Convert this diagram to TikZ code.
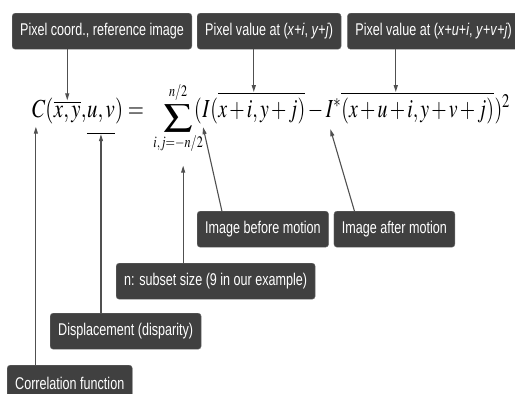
\documentclass[tikz,border=0pt]{standalone}
\usepackage{mathptmx}
\usepackage{fontspec}
\usepackage{graphicx}
\newfontfamily\calloutfont[FakeStretch=0.74]{Liberation Sans}
\usetikzlibrary{positioning,arrows.meta}
\definecolor{boxfill}{HTML}{404040}
\definecolor{boxedge}{HTML}{6E6E6E}
\definecolor{pointer}{HTML}{505050}
\newcommand{\narrowmath}[2][0.76]{\scalebox{#1}[1]{$\medmuskip=2mu #2$}}
\tikzset{
  callout/.style={draw=boxedge, fill=boxfill, text=white, rounded corners=3pt, inner xsep=8pt, minimum height=36pt, font=\calloutfont\fontsize{17}{20}\selectfont},
  eqpart/.style={inner sep=0pt, font=\fontsize{26}{31}\selectfont},
  eqlimit/.style={inner sep=0pt, font=\fontsize{16}{19}\selectfont},
  pointto/.style={-{Triangle[length=7pt,width=4pt]}, pointer, line width=1.1pt},
  bar/.style={line width=1.1pt}
}

\begin{document}
\begin{tikzpicture}[x=1pt, y=-1pt]
  \useasboundingbox (0,0) rectangle (515,394);

  % the formula, piece by piece
  \node[eqpart, anchor=base west] (fC) at (32,117) {\narrowmath[0.8]{C(}};
  \node[eqpart, base right=0pt of fC] (fxy) {\narrowmath[0.8]{\overline{x,y}}};
  \node[eqpart, base right=0pt of fxy] (fc1) {\narrowmath[0.8]{,}};
  \node[eqpart, base right=0pt of fc1] (fuv) {\narrowmath[0.8]{u,v}};
  \node[eqpart, base right=0pt of fuv] (feq) {\narrowmath[0.8]{)=}};
  \node[eqpart, base right=19pt of feq] (fsum) {\raisebox{-7pt}{\scalebox{1.1}[0.85]{$\displaystyle\sum$}}};
  \node[eqlimit, above=4pt of fsum] (fsup) {\narrowmath{n/2}};
  \node[eqlimit, below=3pt of fsum] (fsub) {\narrowmath{i{,}j{=}{-}n/2}};
  \node[eqpart, base right=1pt of fsum] (fop) {\narrowmath{(}};
  \node[eqpart, base right=0pt of fop] (fI) {\narrowmath{I}};
  \node[eqpart, base right=0pt of fI] (fop2) {\narrowmath{(}};
  \node[eqpart, base right=0pt of fop2] (fxi) {\narrowmath{\overline{x+i,y+j)}}};
  \node[eqpart, base right=0pt of fxi] (fmin) {\narrowmath{{}-{}}};
  \node[eqpart, base right=0pt of fmin] (fIs) {\narrowmath{I^*}};
  \node[eqpart, base right=0pt of fIs] (fxu) {\narrowmath{\overline{(x+u+i,y+v+j)}}};
  \node[eqpart, base right=0pt of fxu] (fend) {\narrowmath{)^2}};
  \draw[bar] ([yshift=-11pt]fuv.south west) -- ([yshift=-11pt]fuv.south east);
  \coordinate (uvbar) at ([yshift=-12pt]fuv.south);

  % callouts
  \node[callout, anchor=north west] (pxcoord) at (12,13) {Pixel coord., reference image};
  \node[callout, right=5pt of pxcoord] (pxbefore) {Pixel value at (\textit{x}+\textit{i}, \textit{y}+\textit{j})};
  \node[callout, right=6pt of pxbefore] (pxafter) {Pixel value at (\textit{x}+\textit{u}+\textit{i}, \textit{y}+\textit{v}+\textit{j})};

  \node[callout, anchor=north west] (before) at (197,211) {Image before motion};
  \node[callout, right=5pt of before] (after) {Image after motion};
  \node[callout, anchor=north west] (subset) at (116,263) {n: subset size (9 in our example)};
  \node[callout, anchor=north west] (disp) at (50,313) {Displacement (disparity)};
  \node[callout, anchor=north west] (corr) at (7,365) {Correlation function};

  \draw[pointto] (fxy.north |- pxcoord.south) -- (fxy.north);
  \draw[pointto] ([xshift=-8pt]fxi.north |- pxbefore.south) -- ([xshift=-8pt]fxi.north);
  \draw[pointto] ([xshift=-22pt]fxu.north |- pxafter.south) -- ([xshift=-22pt]fxu.north);

  \draw[pointto] ([xshift=-7pt]fC.south |- corr.north) -- ([xshift=-7pt,yshift=-3pt]fC.south);
  \draw[pointto] (uvbar |- disp.north) -- (uvbar);
  \draw[pointto] ([xshift=5pt]fsub.south |- subset.north) -- ([xshift=5pt,yshift=-14pt]fsub.south);
  \draw[pointto] ([xshift=-41pt]before.north) -- ([xshift=-3pt,yshift=-10pt]fI.south);
  \draw[pointto] ([xshift=-40pt]after.north) -- ([xshift=-3pt,yshift=-12pt]fIs.south);
\end{tikzpicture}
\end{document}
